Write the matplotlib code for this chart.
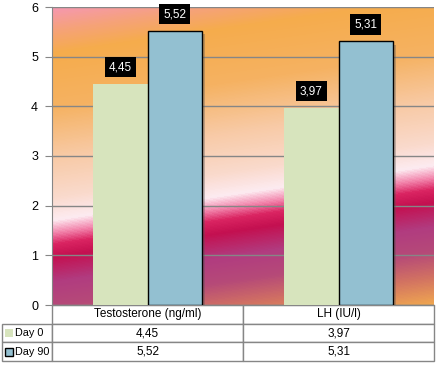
import numpy as np
import matplotlib
matplotlib.use('Agg')
import matplotlib.pyplot as plt
import matplotlib.patheffects as pe
from matplotlib.colors import LinearSegmentedColormap
from matplotlib.patches import Rectangle

plt.rcParams['font.family'] = ['Liberation Sans', 'DejaVu Sans']

# data
categories = ['Testosterone (ng/ml)', 'LH (IU/l)']
series_names = ['Day 0', 'Day 90']
day0 = [4.45, 3.97]
day90 = [5.52, 5.31]
series_values = [day0, day90]
series_colors = ['#D7E4BD', '#93C0D1']
series_edges = ['none', '#000000']
yticks = [0, 1, 2, 3, 4, 5, 6]

def fmt(v):
    return f'{v:.2f}'.replace('.', ',')

W, H = 437, 365
fig = plt.figure(figsize=(W / 100, H / 100), dpi=100)
fig.patch.set_facecolor('white')

# plot area in pixels
x0, x1, y0, y1 = 52, 434, 7, 305
ax = fig.add_axes([x0 / W, 1 - y1 / H, (x1 - x0) / W, (y1 - y0) / H])

# tilted gradient background (Excel preset look)
pw, ph = x1 - x0, y1 - y0
tilt = 55
stops = [(0, '#F598B0'), (22, '#F5A27A'), (45, '#F5AC4C'), (100, '#F5B262'),
         (150, '#F8CAA6'), (190, '#FADACC'), (213, '#FDEBF1'), (226, '#F282AA'),
         (237, '#DA2462'), (250, '#C41050'), (275, '#B13C80'), (300, '#B64A78'),
         (325, '#D27262'), (353, '#F0A850')]
cmap = LinearSegmentedColormap.from_list('bg', [(p / 353, c) for p, c in stops])
yy, xx = np.mgrid[0:ph, 0:pw]
s = (yy + tilt * xx / pw) / (ph + tilt)
ax.imshow(cmap(s), extent=[0, 1, 0, 1], transform=ax.transAxes,
          aspect='auto', zorder=0, interpolation='bilinear')

x = np.arange(len(categories))
bw = 0.285
offsets = [-bw / 2, bw / 2]
shadow = [pe.SimplePatchShadow(offset=(2.5, -2.5), shadow_rgbFace='#555555', alpha=0.35),
          pe.Normal()]
for vals, off, col, ec in zip(series_values, offsets, series_colors, series_edges):
    bars = ax.bar(x + off, vals, width=bw, color=col, edgecolor=ec,
                  linewidth=1, zorder=3)
    for b in bars:
        b.set_path_effects(shadow)
    for xi, v in zip(x + off, vals):
        ax.annotate(fmt(v), (xi, v), xytext=(0, 12), textcoords='offset points',
                    ha='center', va='center', color='white', fontsize=8.5,
                    zorder=5,
                    bbox=dict(boxstyle='square,pad=0.35', fc='black', ec='none'))

ax.set_xlim(-0.5, len(categories) - 0.5)
ax.set_ylim(0, 6)
ax.set_yticks(yticks)
ax.set_xticks([])
ax.yaxis.grid(True, color='#868686', linewidth=1)
ax.set_axisbelow(True)
for sp in ['top', 'right']:
    ax.spines[sp].set_visible(False)
for sp in ['left', 'bottom']:
    ax.spines[sp].set_color('#868686')
ax.tick_params(axis='y', length=5, color='#868686', labelsize=9, pad=5)

# data table below the plot
cell_text = [[''] + categories]
for name, vals in zip(series_names, series_values):
    cell_text.append([''] + [fmt(v) for v in vals])
tx0, tx1, ty1 = 2, 434, 361
tab = ax.table(cellText=cell_text, cellLoc='center',
               colWidths=[50, 191, 191],
               bbox=[(tx0 - x0) / pw, -(ty1 - y1) / ph, (tx1 - tx0) / pw, (ty1 - y1) / ph])
tab.auto_set_font_size(False)
tab.set_fontsize(8.5)
for (r, c), cell in tab.get_celld().items():
    cell.set_edgecolor('#868686')
    cell.set_linewidth(1)
    if r == 0 and c == 0:
        cell.visible_edges = ''

# row labels with legend keys
row_h = (ty1 - y1) / 3
for i, (name, col, ec) in enumerate(zip(series_names, series_colors, series_edges)):
    ymid = y1 + row_h * (i + 1.5)
    fig.add_artist(Rectangle((5 / W, 1 - (ymid + 4) / H), 8 / W, 8 / H,
                             transform=fig.transFigure, facecolor=col,
                             edgecolor='#000000' if ec != 'none' else 'none',
                             linewidth=1))
    fig.text(15.5 / W, 1 - ymid / H, name, ha='left', va='center', fontsize=7.8)

fig.savefig('out.png', dpi=100)
